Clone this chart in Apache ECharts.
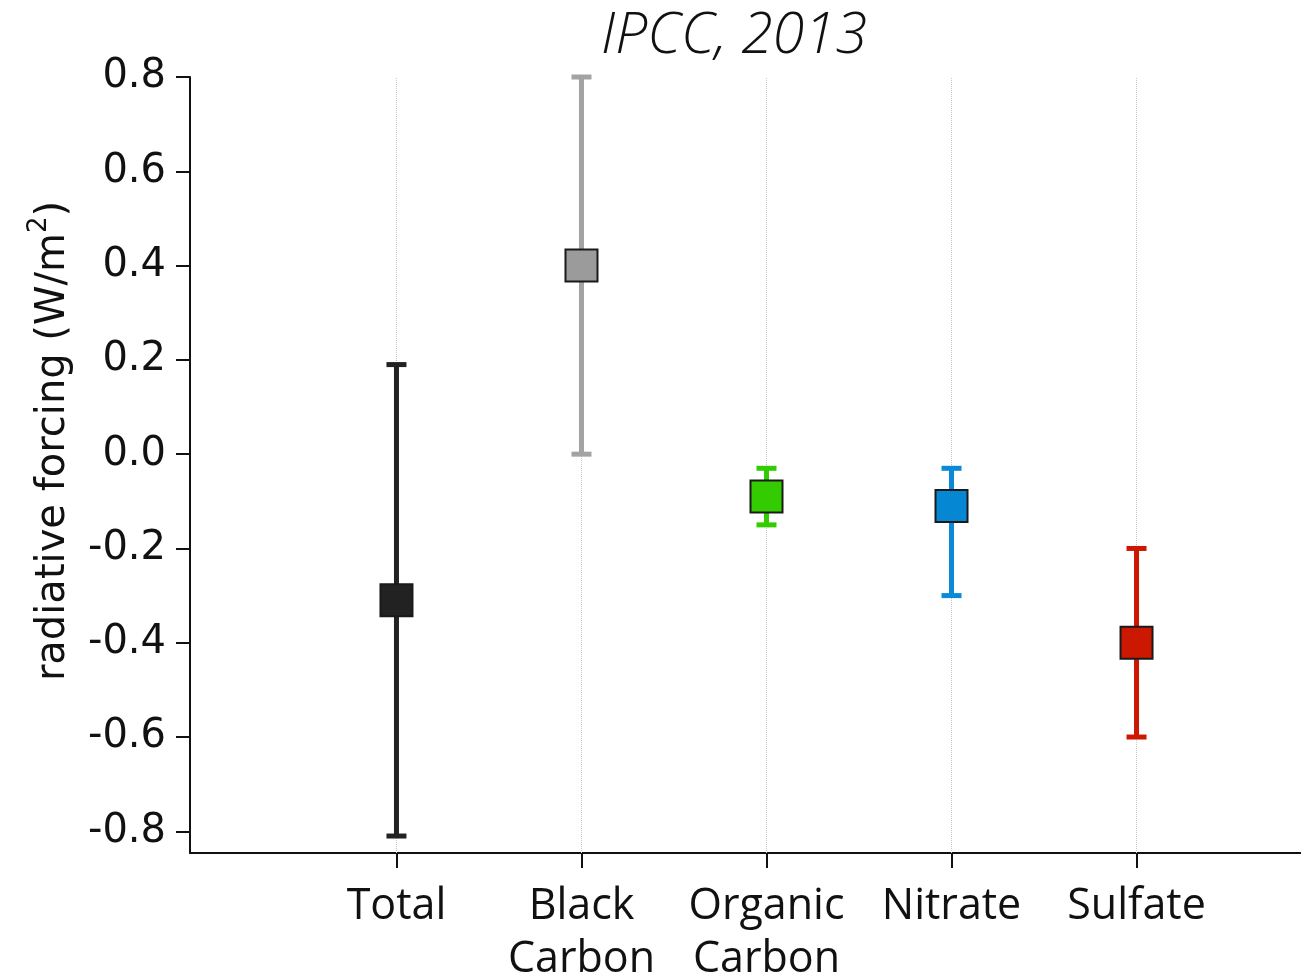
<!DOCTYPE html>
<html>
<head>
<meta charset="utf-8">
<script src="https://cdn.jsdelivr.net/npm/echarts@6/dist/echarts.min.js"></script>
<style>
  html, body { margin: 0; padding: 0; background: #ffffff; }
  #chart { width: 1301px; height: 972px; }
</style>
</head>
<body>
<div id="chart"></div>
<script>
// Aerosol radiative forcing components, best estimate with uncertainty range (W/m^2)
const categories = ['Total', 'Black\nCarbon', 'Organic\nCarbon', 'Nitrate', 'Sulfate'];
const bestEstimate = [-0.31, 0.40, -0.09, -0.11, -0.40];
const lowerBound = [-0.81, 0.00, -0.15, -0.30, -0.60];
const upperBound = [0.19, 0.80, -0.03, -0.03, -0.20];
const yTicks = [-0.8, -0.6, -0.4, -0.2, 0.0, 0.2, 0.4, 0.6, 0.8];

const markerColors = ['#222222', '#9b9b9b', '#33cc00', '#0687d3', '#cc1800'];
const rangeColors = ['#222222', '#a3a3a3', '#33cc00', '#0a8ad6', '#cc1800'];

const xPositions = categories.map((_, i) => i + 1);

const chart = echarts.init(document.getElementById('chart'), null, { renderer: 'canvas' });

const rangeData = xPositions.map((x, i) => [x, lowerBound[i], upperBound[i]]);
const pointData = xPositions.map((x, i) => ({
  value: [x, bestEstimate[i]],
  itemStyle: { color: markerColors[i] }
}));

function renderRange(params, api) {
  const x = api.value(0);
  const pLo = api.coord([x, api.value(1)]);
  const pHi = api.coord([x, api.value(2)]);
  const color = rangeColors[params.dataIndex];
  const half = 10;
  const style = { stroke: color, lineWidth: 5, fill: null };
  return {
    type: 'group',
    children: [
      { type: 'line', shape: { x1: pLo[0], y1: pLo[1], x2: pHi[0], y2: pHi[1] }, style: style },
      { type: 'line', shape: { x1: pLo[0] - half, y1: pLo[1], x2: pLo[0] + half, y2: pLo[1] }, style: style },
      { type: 'line', shape: { x1: pHi[0] - half, y1: pHi[1], x2: pHi[0] + half, y2: pHi[1] }, style: style }
    ]
  };
}

const option = {
  backgroundColor: '#ffffff',
  animation: false,
  grid: { left: 190, right: 0, top: 77, bottom: 119, containLabel: false, outerBoundsMode: 'none' },
  xAxis: {
    type: 'value',
    min: -0.116,
    max: 5.889,
    axisLine: { show: true, onZero: false, lineStyle: { color: '#111111', width: 2 } },
    axisTick: { show: true, customValues: xPositions, length: 15, lineStyle: { color: '#111111', width: 2 } },
    axisLabel: {
      customValues: xPositions,
      formatter: v => categories[Math.round(v) - 1],
      fontFamily: 'Open Sans',
      fontSize: 43,
      lineHeight: 53,
      color: '#111111',
      margin: 27
    },
    splitLine: { show: false }
  },
  yAxis: {
    type: 'value',
    min: -0.846,
    max: 0.8,
    axisLine: { show: true, onZero: false, lineStyle: { color: '#111111', width: 2 } },
    axisTick: { show: true, customValues: yTicks, length: 14, lineStyle: { color: '#111111', width: 2 } },
    axisLabel: {
      customValues: yTicks,
      formatter: v => v.toFixed(1),
      fontFamily: 'DejaVu Sans',
      fontSize: 40,
      color: '#111111',
      margin: 24
    },
    splitLine: { show: false }
  },
  graphic: [
    {
      type: 'text',
      x: 734,
      y: 37,
      style: {
        text: 'IPCC, 2013',
        font: 'italic 300 57px "Open Sans"',
        fill: '#111111',
        align: 'center',
        verticalAlign: 'middle'
      }
    },
    {
      type: 'text',
      x: 54,
      y: 441,
      rotation: Math.PI / 2,
      style: {
        text: 'radiative forcing (W/m{sup|2})',
        fontFamily: 'DejaVu Sans',
        fontSize: 40,
        fill: '#111111',
        align: 'center',
        verticalAlign: 'middle',
        rich: {
          sup: { fontFamily: 'DejaVu Sans', fontSize: 26, verticalAlign: 'bottom', padding: [0, 0, 30, 0], fill: '#111111' }
        }
      }
    }
  ],
  series: [
    {
      // dotted guide lines at each category position, drawn beneath the marks
      type: 'line',
      data: [],
      z: 1,
      silent: true,
      markLine: {
        z: 1,
        silent: true,
        symbol: 'none',
        label: { show: false },
        lineStyle: { type: 'dotted', color: '#c8c8c8', width: 1 },
        data: xPositions.map(x => ({ xAxis: x }))
      }
    },
    {
      type: 'custom',
      renderItem: renderRange,
      data: rangeData,
      encode: { x: 0, y: [1, 2] },
      z: 3,
      silent: true
    },
    {
      type: 'scatter',
      data: pointData,
      symbol: 'rect',
      symbolSize: 32,
      itemStyle: { borderColor: '#1a1a1a', borderWidth: 2, opacity: 1 },
      z: 4,
      silent: true
    }
  ]
};

chart.setOption(option);
</script>
</body>
</html>
